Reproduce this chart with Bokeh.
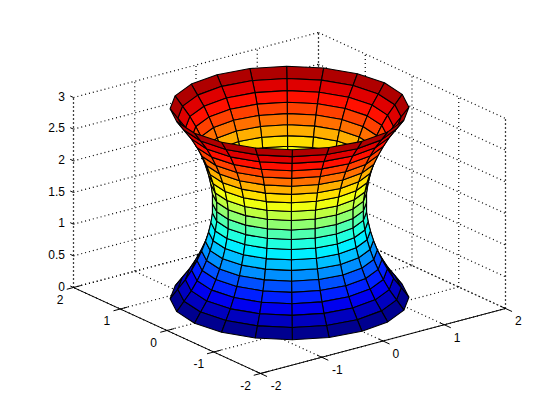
from math import cos, sin, radians
from bokeh.plotting import figure
from bokeh.models import Range1d, ColumnDataSource
from bokeh.core.properties import value
from bokeh.embed import file_html
from bokeh.resources import INLINE

# ---- data ----
z_levels = [0.0, 0.15, 0.3, 0.45, 0.6, 0.75, 0.9, 1.05, 1.2, 1.35, 1.5,
            1.65, 1.8, 1.95, 2.1, 2.25, 2.4, 2.55, 2.7, 2.85, 3.0]
radius_levels = [1.55, 1.45, 1.35, 1.27, 1.2, 1.14, 1.09, 1.05, 1.02, 1.0, 1.0,
                 1.0, 1.02, 1.05, 1.09, 1.14, 1.2, 1.27, 1.35, 1.45, 1.55]
angle_degrees = [0, 18, 36, 54, 72, 90, 108, 126, 144, 162, 180,
                 198, 216, 234, 252, 270, 288, 306, 324, 342, 360]
x_ticks = [-2, -1, 0, 1, 2]
y_ticks = [-2, -1, 0, 1, 2]
z_ticks = [0, 0.5, 1, 1.5, 2, 2.5, 3]
z_tick_labels = ["0", "0.5", "1", "1.5", "2", "2.5", "3"]

# ---- view: projection of data units on the page ----
ORIGIN = (289.0, 297.5)
EX = (61.25, -16.25)
EY = (-46.75, -21.5)
EZ = (0.0, -63.33)
DEPTH = (44.0, 57.3, -23.4)
FONT = value("Liberation Sans")
FONT_SIZE = value("12px")


def proj(x, y, z):
    return (ORIGIN[0] + x * EX[0] + y * EY[0] + z * EZ[0],
            ORIGIN[1] + x * EX[1] + y * EY[1] + z * EZ[1])


def jet(n):
    """MATLAB jet colormap entry n (0..63)."""
    v = (n + 1) / 64
    r = min(4 * v - 1.5, -4 * v + 4.5)
    g = min(4 * v - 0.5, -4 * v + 3.5)
    b = min(4 * v + 0.5, -4 * v + 2.5)
    c = [int(round(255 * max(0, min(1, k)))) for k in (r, g, b)]
    return "#%02x%02x%02x" % tuple(c)


def seg(a, b):
    pa, pb = proj(*a), proj(*b)
    return [pa[0], pb[0]], [pa[1], pb[1]]


p = figure(width=544, height=404, output_backend="svg", toolbar_location=None,
           x_range=Range1d(0, 544), y_range=Range1d(404, 0),
           x_axis_location=None, y_axis_location=None, min_border=0,
           outline_line_color=None, background_fill_color="white")
p.grid.visible = False

# dotted grid
gx, gy = [], []
zmax = z_ticks[-1]
for t in x_ticks:
    for a, b in [((t, -2, 0), (t, 2, 0)), ((t, 2, 0), (t, 2, zmax))]:
        s = seg(a, b); gx.append(s[0]); gy.append(s[1])
for t in y_ticks:
    for a, b in [((-2, t, 0), (2, t, 0)), ((2, t, 0), (2, t, zmax))]:
        s = seg(a, b); gx.append(s[0]); gy.append(s[1])
for t in z_ticks:
    for a, b in [((-2, 2, t), (2, 2, t)), ((2, 2, t), (2, -2, t))]:
        s = seg(a, b); gx.append(s[0]); gy.append(s[1])
for a, b in [((-2, 2, 0), (-2, 2, zmax)), ((2, -2, 0), (2, -2, zmax))]:
    s = seg(a, b); gx.append(s[0]); gy.append(s[1])
p.multi_line(gx, gy, line_color="black", line_width=1.2, line_dash="1 3")

# solid axis lines and ticks
ax, ay = [], []
for a, b in [((-2, 2, 0), (-2, -2, 0)), ((-2, -2, 0), (2, -2, 0))]:
    s = seg(a, b); ax.append(s[0]); ay.append(s[1])
for t in x_ticks:
    s = seg((t, -2.14, 0), (t, -1.91, 0)); ax.append(s[0]); ay.append(s[1])
for t in y_ticks:
    s = seg((-2.11, t, 0), (-1.88, t, 0)); ax.append(s[0]); ay.append(s[1])
for t in z_ticks:
    s = seg((-2, 2.07, t), (-2, 2, t)); ax.append(s[0]); ay.append(s[1])
p.multi_line(ax, ay, line_color="black", line_width=1)

# surface faces, far to near
faces = []
for i in range(len(z_levels) - 1):
    idx = min(63, int(z_levels[i] / zmax * 64))
    for j in range(len(angle_degrees) - 1):
        corners = []
        for ii, jj in [(i, j), (i, j + 1), (i + 1, j + 1), (i + 1, j)]:
            th = radians(angle_degrees[jj])
            r = radius_levels[ii]
            corners.append((r * cos(th), r * sin(th), z_levels[ii]))
        d = sum(DEPTH[0] * c[0] + DEPTH[1] * c[1] + DEPTH[2] * c[2] for c in corners)
        faces.append((d, corners, jet(idx)))
faces.sort(key=lambda f: -f[0])
src = ColumnDataSource(dict(
    xs=[[proj(*c)[0] for c in f[1]] for f in faces],
    ys=[[proj(*c)[1] for c in f[1]] for f in faces],
    color=[f[2] for f in faces]))
p.patches("xs", "ys", source=src, fill_color="color", line_color="black", line_width=1.1)

# tick labels
tx, ty, tt = [], [], []
for t in x_ticks:
    q = proj(t, -2, 0)
    tx.append(q[0] + (15.5 if t < 0 else 12.8)); ty.append(q[1] + 12.3); tt.append(str(t))
for t in y_ticks:
    q = proj(-2, t, 0)
    tx.append(q[0] + (-15.0 if t < 0 else -13.5)); ty.append(q[1] + 11.5); tt.append(str(t))
p.text(tx, ty, text=tt, text_font=FONT, text_font_size=FONT_SIZE, text_color="black",
       text_align="center", text_baseline="middle")
zx, zy = [], []
for t in z_ticks:
    q = proj(-2, 2, t)
    zx.append(q[0] - 8.5); zy.append(q[1] - 1.3)
p.text(zx, zy, text=z_tick_labels, text_font=FONT, text_font_size=FONT_SIZE, text_color="black",
       text_align="right", text_baseline="middle")

open("out.html", "w").write(file_html(p, INLINE))
